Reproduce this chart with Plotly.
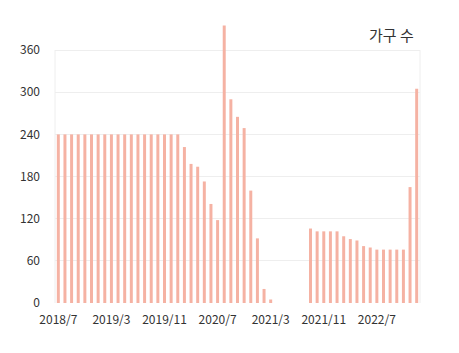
import plotly.graph_objects as go

months = []
y, m = 2018, 7
for _ in range(55):
    months.append(f"{y}/{m}")
    m += 1
    if m > 12:
        m = 1
        y += 1

values = ([240] * 19 +
          [222, 198, 194, 173, 141, 118, 395, 290, 265, 249, 160, 92, 20, 5] +
          [None] * 5 +
          [106, 102, 102, 102, 102, 95, 91, 89, 81, 79, 76, 76, 76, 76, 76, 165, 305])

tick_labels = ["2018/7", "2019/3", "2019/11", "2020/7", "2021/3", "2021/11", "2022/7"]
y_ticks = [0, 60, 120, 180, 240, 300, 360]

fig = go.Figure()
fig.add_trace(go.Bar(x=months, y=values, marker_color="#f5b2a3",
                     marker_line_width=0, width=0.45))

grid_col = "#eeeeee"
fig.update_layout(
    width=459, height=353,
    margin=dict(l=55, r=39, t=22, b=50),
    plot_bgcolor="white", paper_bgcolor="white",
    showlegend=False,
    font=dict(family="Noto Sans CJK KR, Noto Sans, sans-serif", size=12, color="#333333"),
    xaxis=dict(type="category", tickmode="array", tickvals=tick_labels, ticktext=tick_labels,
               showgrid=False, showline=False, zeroline=False, ticks="",
               ticklabelstandoff=8, tickfont=dict(size=12, color="#333333")),
    yaxis=dict(range=[0, 400], tickmode="array", tickvals=y_ticks,
               showgrid=True, gridcolor=grid_col, gridwidth=1, zeroline=False,
               showline=False, ticks="", ticklabelstandoff=14,
               tickfont=dict(size=12, color="#333333")),
    annotations=[dict(text="가구 수", xref="paper", yref="paper", x=1.0, y=1.0,
                      xanchor="right", yanchor="top", xshift=-4, yshift=0, showarrow=False,
                      font=dict(size=15, color="#333333"))],
    shapes=[
        dict(type="line", xref="paper", yref="y", x0=0, x1=0, y0=0, y1=360,
             line=dict(color=grid_col, width=1), layer="below"),
        dict(type="line", xref="paper", yref="y", x0=1, x1=1, y0=0, y1=360,
             line=dict(color=grid_col, width=1), layer="below"),
    ],
)

fig.write_html("out.html")
